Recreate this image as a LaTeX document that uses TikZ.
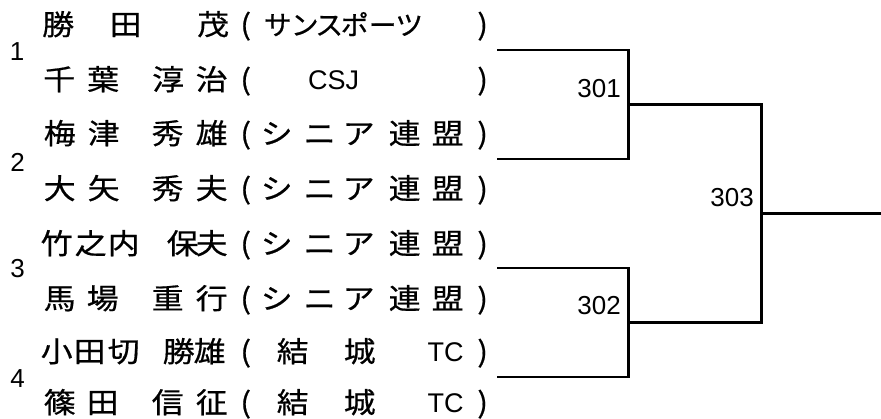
\documentclass[tikz,border=0pt]{standalone}
\usepackage{fontspec}
\newfontfamily\jp[FakeStretch=1.12,FakeBold=0.6]{Noto Sans CJK JP}
\newfontfamily\kn[FakeStretch=1.03,FakeBold=0.6]{Noto Sans CJK JP}
\newfontfamily\lat{Liberation Sans}
\newcommand\la{\lat\fontsize{27}{27}\selectfont}
\newcommand\ka{\kn\fontsize{27}{27}\selectfont}
\newcommand\putc[2]{\rlap{\hspace*{#1pt}\makebox[0pt]{#2}}}
\newcommand\shinia{\putc{245}{(}\putc{276}{シ}\putc{319}{ニ}\putc{358}{ア}\putc{404}{連}\putc{447}{盟}\putc{482}{)}}
\newcommand\yuki{\putc{245}{(}\putc{292}{結}\putc{359}{城}\putc{445}{\la TC}\putc{482}{)}}
\begin{document}
\begin{tikzpicture}[x=1pt,y=-1pt,
  rowtxt/.style={anchor=base west,inner sep=0pt,font=\jp\fontsize{28.5}{28.5}\selectfont},
  num/.style={inner sep=0pt,font=\lat\fontsize{26}{26}\selectfont},
  br/.style={line width=2.8pt,line join=miter}]
\useasboundingbox (0,0) rectangle (881,419);
% player rows
\node[rowtxt] (r1) at (0,35) {\putc{57.5}{勝}\putc{125}{田}\putc{212.5}{茂}\putc{245}{(}\putc{277}{\ka サ}\putc{304}{\ka ン}\putc{328.5}{\ka ス}\putc{354}{\ka ポ}\putc{382}{\ka ー}\putc{408.5}{\ka ツ}\putc{482}{)}};
\node[rowtxt] (r2) at (0,90) {\putc{58.5}{千}\putc{102.5}{葉}\putc{167.5}{淳}\putc{211}{治}\putc{245}{(}\putc{333}{\la CSJ}\putc{482}{)}};
\node[rowtxt] (r3) at (0,144) {\putc{59}{梅}\putc{103}{津}\putc{167}{秀}\putc{211}{雄}\shinia};
\node[rowtxt] (r4) at (0,199) {\putc{59}{大}\putc{103}{矢}\putc{167}{秀}\putc{211}{夫}\shinia};
\node[rowtxt] (r5) at (0,254) {\putc{56}{竹}\putc{90}{之}\putc{123}{内}\putc{182}{保}\putc{211}{夫}\shinia};
\node[rowtxt] (r6) at (0,309) {\putc{59}{馬}\putc{102}{場}\putc{167}{重}\putc{211}{行}\shinia};
\node[rowtxt] (r7) at (0,362) {\putc{56}{小}\putc{89}{田}\putc{123}{切}\putc{178}{勝}\putc{209}{雄}\yuki};
\node[rowtxt] (r8) at (0,413) {\putc{59}{篠}\putc{102}{田}\putc{167}{信}\putc{211}{征}\yuki};
% seed numbers
\node[num] (n1) at (17,52) {1};
\node[num] (n2) at (17.5,162) {2};
\node[num] (n3) at (17.5,269) {3};
\node[num] (n4) at (17.5,379) {4};
% bracket
\coordinate (t1) at (497,50);
\coordinate (t2) at (497,159);
\coordinate (t3) at (497,268);
\coordinate (t4) at (497,377);
\coordinate (m1) at (628.5,104.5);
\coordinate (m2) at (628.5,322.5);
\coordinate (f) at (761.5,213.5);
\coordinate (w) at (881,213.5);
\draw[br] (t1) -| (m1) |- (t2);
\draw[br] (t3) -| (m2) |- (t4);
\draw[br] (m1) -| (f) |- (m2);
\draw[br] (f) -- (w);
\node[num,anchor=south east] (l301) at (621,97.5) {301};
\node[num,anchor=south east] (l302) at (621,315) {302};
\node[num,anchor=south east] (l303) at (754,207) {303};
\end{tikzpicture}
\end{document}
